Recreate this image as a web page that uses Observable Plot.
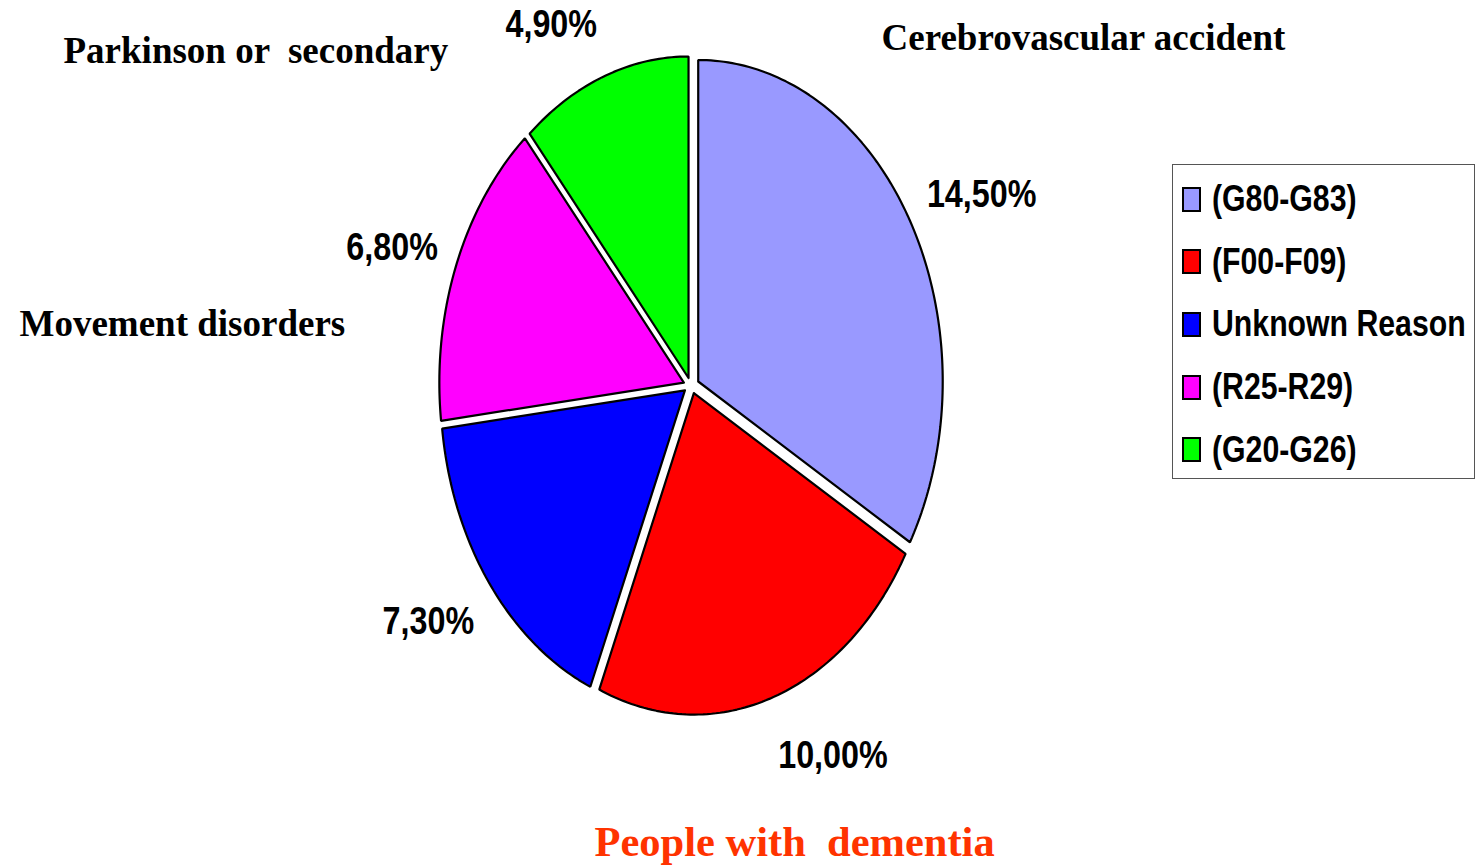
<!DOCTYPE html>
<html>
<head>
<meta charset="utf-8">
<script src="https://cdn.jsdelivr.net/npm/d3@7"></script>
<script src="https://cdn.jsdelivr.net/npm/@observablehq/plot@0.6"></script>
<style>
  body { margin: 0; background: #fff; }
  #wrap { position: relative; width: 1475px; height: 866px; overflow: hidden; }
  #wrap svg text { white-space: pre; }
  #legend {
    position: absolute; left: 1172px; top: 164px; width: 303px; height: 315px;
    box-sizing: border-box; border: 1px solid #555; background: #fff;
    padding-top: 3px;
  }
  .row { display: flex; align-items: center; height: 62.6px; }
  .sw { flex: 0 0 auto; width: 19px; height: 25px; box-sizing: border-box; border: 2px solid #000; margin-left: 9px; margin-right: 11px; }
  .lab { flex: 0 0 auto; font-family: "Liberation Sans", Arial, sans-serif; font-weight: bold; font-size: 36px; color: #000; white-space: pre; line-height: 1; transform: scaleX(0.84); transform-origin: left center; }
</style>
</head>
<body>
<div id="wrap"></div>
<script>
// ---- data ----
const categories = ["(G80-G83)", "(F00-F09)", "Unknown Reason", "(R25-R29)", "(G20-G26)"];
const values = [14.5, 10.0, 7.3, 6.8, 4.9];
const colors = ["#9999FF", "#FF0000", "#0000FF", "#FF00FF", "#00FF00"];
const annotations = ["Cerebrovascular accident", "Parkinson or  secondary", "Movement disorders", "People with  dementia"];

const fmt = v => v.toFixed(2).replace(".", ",") + "%";

// ---- geometry (unit pie; scales stretch it into the ellipse) ----
const W = 1475, H = 866;
const cx = 690.8, cy = 385, rx = 244.5, ry = 321.5;
const explodePx = 8;
const arcs = d3.pie().sort(null)(values);
const slices = arcs.map((a, i) => {
  const mid = (a.startAngle + a.endAngle) / 2;
  const ox = explodePx / rx * Math.sin(mid);
  const oy = explodePx / ry * Math.cos(mid);
  const n = Math.max(2, Math.ceil((a.endAngle - a.startAngle) / (Math.PI / 180)));
  const pts = [[ox, oy]];
  for (let k = 0; k <= n; k++) {
    const t = a.startAngle + (a.endAngle - a.startAngle) * k / n;
    pts.push([ox + Math.sin(t), oy + Math.cos(t)]);
  }
  pts.push([ox, oy]);
  return {
    i, pts, mid,
    lx: ox + 1.08 * Math.sin(mid),
    ly: oy + 1.18 * Math.cos(mid),
    label: fmt(values[i]),
    right: Math.sin(mid) >= 0
  };
});

const pctFont = "'Liberation Sans', Arial, sans-serif";
const serif = "'Liberation Serif', 'Times New Roman', serif";

const sliceMarks = slices.map(s =>
  Plot.line(s.pts, {
    x: d => d[0], y: d => d[1],
    fill: colors[s.i], stroke: "#000", strokeWidth: 2.2, strokeLinejoin: "miter"
  })
);

const annStyle = {fontFamily: serif, fontWeight: "bold", fontSize: 37, fill: "#000", frameAnchor: "top-left", textAnchor: "start", lineAnchor: "bottom"};
const pctStyle = {x: "lx", y: "ly", text: "label", lineAnchor: "middle", dy: 3, fontFamily: pctFont, fontWeight: "bold", fontSize: 38, fill: "#000", className: "pct"};

const chart = Plot.plot({
  width: W, height: H,
  margin: 0,
  x: {axis: null, domain: [-cx / rx, (W - cx) / rx]},
  y: {axis: null, domain: [-(H - cy) / ry, cy / ry]},
  style: {background: "#fff", overflow: "visible"},
  marks: [
    ...sliceMarks,
    Plot.text(slices.filter(s => s.right), {...pctStyle, textAnchor: "start"}),
    Plot.text(slices.filter(s => !s.right), {...pctStyle, textAnchor: "end"}),
    Plot.text([annotations[0]], {...annStyle, text: d => d, dx: 881, dy: 49}),
    Plot.text([annotations[1]], {...annStyle, text: d => d, dx: 63, dy: 62}),
    Plot.text([annotations[2]], {...annStyle, text: d => d, dx: 19, dy: 335}),
    Plot.text([annotations[3]], {...annStyle, text: d => d, dx: 594, dy: 855, fontSize: 42.5, fill: "#FF3300"})
  ]
});

// condense the percentage labels (narrow sans look) around their anchor points
chart.querySelectorAll("g.pct text").forEach(t => {
  const tr = t.getAttribute("transform");
  if (tr && tr.includes("translate")) {
    t.setAttribute("transform", tr + " scale(0.85,1)");
  } else {
    const x = +(t.getAttribute("x") || 0), y = +(t.getAttribute("y") || 0);
    t.removeAttribute("x"); t.removeAttribute("y");
    t.setAttribute("transform", `translate(${x},${y}) scale(0.85,1)`);
  }
});

const wrap = document.getElementById("wrap");
wrap.appendChild(chart);

// legend
const legend = document.createElement("div");
legend.id = "legend";
categories.forEach((c, i) => {
  const row = document.createElement("div");
  row.className = "row";
  const sw = document.createElement("div");
  sw.className = "sw";
  sw.style.background = colors[i];
  const lab = document.createElement("div");
  lab.className = "lab";
  lab.textContent = c;
  row.appendChild(sw);
  row.appendChild(lab);
  legend.appendChild(row);
});
wrap.appendChild(legend);
</script>
</body>
</html>
